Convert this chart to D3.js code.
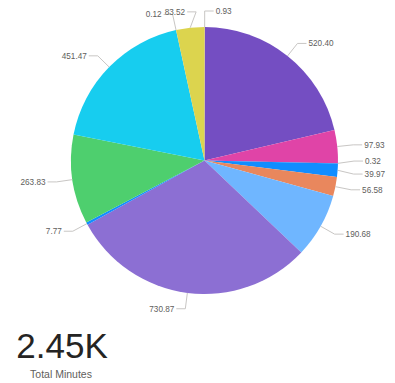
<!DOCTYPE html>
<html>
<head>
<meta charset="utf-8">
<script src="https://cdn.jsdelivr.net/npm/d3@7"></script>
<style>
  html, body { margin: 0; padding: 0; background: #ffffff; }
  svg { display: block; }
</style>
</head>
<body>
<svg id="chart" width="395" height="383"></svg>
<script>
// ---- data ----
const categories = ["C01","C02","C03","C04","C05","C06","C07","C08","C09","C10","C11","C12","C13"];
const values = [0.93, 520.40, 97.93, 0.32, 39.97, 56.58, 190.68, 730.87, 7.77, 263.83, 451.47, 0.12, 83.52];
const cardValue = "2.45K";
const cardLabel = "Total Minutes";

// ---- styles ----
const palette = ["#C9A93A", "#744EC2", "#E044A7", "#2B2F8F", "#118DFF", "#E9875D", "#6FB6FF",
                 "#8C6FD3", "#118DFF", "#4ECF6E", "#17CDEF", "#9A9A9A", "#DCD44E"];

const svg = d3.select("#chart");
const cx = 204.5, cy = 160.5, R = 133.5;
const elbowR = R + 16, hLen = 9, gap = 2;

const color = d3.scaleOrdinal().domain(categories).range(palette);
const pie = d3.pie().sort(null).value(d => d.v).startAngle(0).endAngle(2 * Math.PI);
const data = categories.map((c, i) => ({ c, v: values[i] }));
const arcs = pie(data);
const arc = d3.arc().innerRadius(0).outerRadius(R);

const g = svg.append("g").attr("transform", `translate(${cx},${cy})`);
g.selectAll("path.slice").data(arcs).join("path")
  .attr("class", "slice")
  .attr("d", arc)
  .attr("fill", d => color(d.data.c));

// ---- labels ----
const fmt = d3.format(".2f");
const items = arcs.map(a => {
  const m = (a.startAngle + a.endAngle) / 2;
  return {
    a, m, side: m < Math.PI ? 1 : -1,
    sx: Math.sin(m) * R, sy: -Math.cos(m) * R,
    ex: Math.sin(m) * elbowR, ey: -Math.cos(m) * elbowR,
    text: fmt(a.data.v)
  };
});

const lblG = g.append("g");
// measure text widths
items.forEach(it => {
  const t = lblG.append("text").attr("font-family", "Liberation Sans, Arial, sans-serif")
    .attr("font-size", 8.2).text(it.text);
  it.w = t.node().getComputedTextLength();
  t.remove();
});

// vertical relaxation per side (labels not above pie top)
[1, -1].forEach(side => {
  const list = items.filter(d => d.side === side && d.ey > -R).sort((a, b) => a.ey - b.ey);
  for (let k = 0; k < 60; k++) {
    for (let j = 1; j < list.length; j++) {
      const a = list[j - 1], b = list[j];
      const d = b.ey - a.ey;
      if (d < 13) { const s = (13 - d) / 2; a.ey -= s; b.ey += s; }
    }
  }
});

// horizontal resolution for labels above the pie top
items.forEach(it => { it.hx = it.ex; });
[1, -1].forEach(side => {
  const list = items.filter(d => d.side === side && d.ey <= -R)
    .sort((a, b) => side < 0 ? a.ex - b.ex : b.ex - a.ex);
  for (let j = 1; j < list.length; j++) {
    const p = list[j - 1], q = list[j];
    if (side < 0) {
      const pEnd = p.hx - hLen - gap;           // right end of prev text
      const qStart = q.hx - hLen - gap - q.w;
      if (qStart < pEnd + 3) q.hx = pEnd + 3 + q.w + gap + hLen;
    } else {
      const pStart = p.hx + hLen + gap;
      const qEnd = q.hx + hLen + gap + q.w;
      if (qEnd > pStart - 3) q.hx = pStart - 3 - q.w - gap - hLen;
    }
  }
});

lblG.selectAll("polyline").data(items).join("polyline")
  .attr("points", d => [[d.sx, d.sy], [d.hx, d.ey], [d.hx + d.side * hLen, d.ey]].map(p => p.join(",")).join(" "))
  .attr("fill", "none")
  .attr("stroke", "#C8C6C4")
  .attr("stroke-width", 1);

lblG.selectAll("text").data(items).join("text")
  .attr("x", d => d.hx + d.side * (hLen + gap))
  .attr("y", d => d.ey)
  .attr("dy", "0.35em")
  .attr("text-anchor", d => d.side > 0 ? "start" : "end")
  .attr("font-family", "Liberation Sans, Arial, sans-serif")
  .attr("font-size", 8.2)
  .attr("fill", "#605E5C")
  .text(d => d.text);

// ---- card ----
svg.append("text")
  .attr("x", 62).attr("y", 358)
  .attr("text-anchor", "middle")
  .attr("font-family", "Liberation Sans, Arial, sans-serif")
  .attr("font-size", 35)
  .attr("fill", "#252423")
  .text(cardValue);
svg.append("text")
  .attr("x", 61).attr("y", 378)
  .attr("text-anchor", "middle")
  .attr("font-family", "Liberation Sans, Arial, sans-serif")
  .attr("font-size", 10.5)
  .attr("fill", "#605E5C")
  .text(cardLabel);
</script>
</body>
</html>
